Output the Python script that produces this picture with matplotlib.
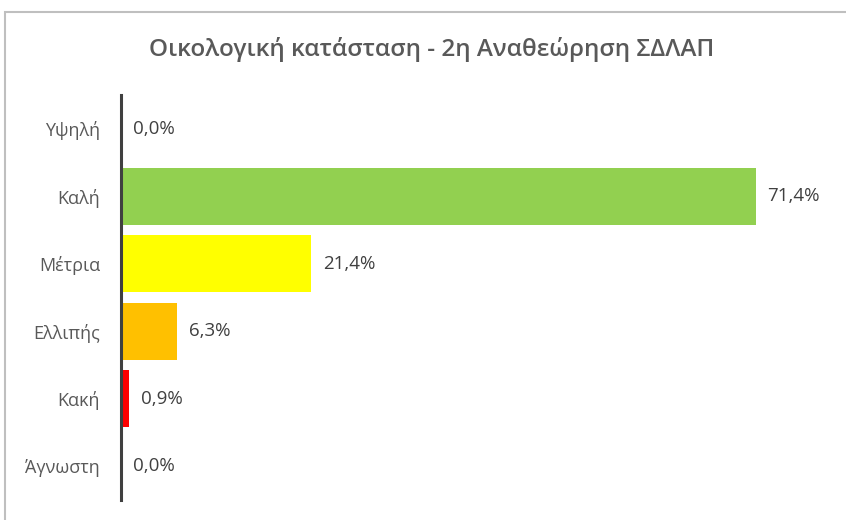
import matplotlib.pyplot as plt
from matplotlib.patches import Rectangle

# Ecological status shares (%)
categories = ["Υψηλή", "Καλή", "Μέτρια", "Ελλιπής", "Κακή", "Άγνωστη"]
values = [0.0, 71.4, 21.4, 6.3, 0.9, 0.0]
colors = ["#92D050", "#92D050", "#FFFF00", "#FFC000", "#FF0000", "#92D050"]
title = "Οικολογική κατάσταση - 2η Αναθεώρηση ΣΔΛΑΠ"

plt.rcParams["font.family"] = ["Open Sans", "DejaVu Sans"]

W, H = 846, 520
fig = plt.figure(figsize=(W / 100, H / 100), dpi=100)

# light chart frame
fig.patches.append(Rectangle((5 / W, -0.01), 1.0, (H - 12) / H + 0.01,
                             transform=fig.transFigure, fill=False,
                             edgecolor="#BFBFBF", linewidth=1.5))

ax = fig.add_axes([121 / W, 1 - 500 / H, (832 - 121) / W, (500 - 95) / H])
y = list(range(len(categories)))
ax.barh(y, values, height=0.85, color=colors)
ax.set_xlim(0, 80)
ax.set_ylim(len(categories) - 0.5, -0.5)

for i, v in enumerate(values):
    ax.annotate(f"{v:.1f}%".replace(".", ","), (v, i), xytext=(12, 0),
                textcoords="offset pixels", va="center", ha="left",
                fontsize=13.5, color="#404040")

ax.set_yticks(y)
ax.set_yticklabels(categories, fontsize=13, color="#595959")
ax.tick_params(axis="y", length=0, pad=15)
ax.set_xticks([])
for s in ["top", "right", "bottom"]:
    ax.spines[s].set_visible(False)
ax.spines["left"].set_color("#404040")
ax.spines["left"].set_linewidth(2.2)

fig.text(432 / W, 1 - 50 / H, title, ha="center", va="center",
         fontsize=17.5, fontweight="semibold", color="#595959")

fig.savefig("out.png", dpi=100)
